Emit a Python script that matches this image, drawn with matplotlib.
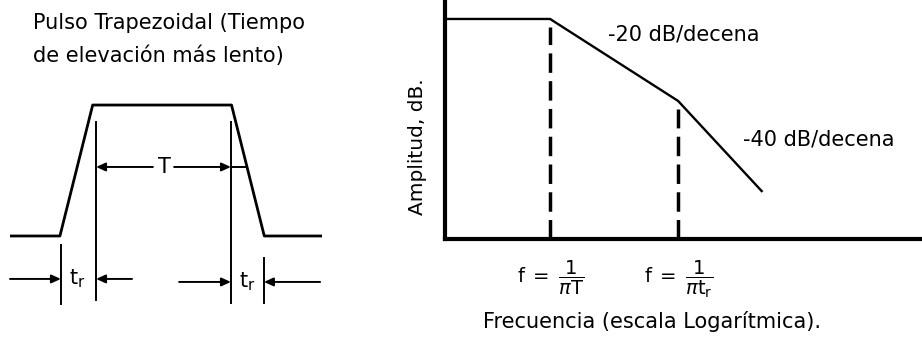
"""
Pulso trapezoidal y su envolvente espectral (asintotas de Bode)
"""
import matplotlib
matplotlib.use('Agg')
import matplotlib.pyplot as plt

plt.rcParams['font.family'] = ['DejaVu Sans']
plt.rcParams['mathtext.fontset'] = 'dejavusans'
plt.rcParams['lines.scale_dashes'] = False

# pulso (unidades de tiempo arbitrarias)
pulse_t = [0.0, 1.6, 2.65, 7.1, 8.15, 10.0]
pulse_v = [0.0, 0.0, 1.0, 1.0, 0.0, 0.0]
tr_left = (1.63, 2.76)
tr_right = (7.08, 8.14)
T_span = (2.76, 7.08)

# espectro: frecuencia (log) y amplitud (dB)
spec_f = [0.151, 1.0, 10.0, 45.0]
spec_db = [0.0, 0.0, -20.0, -42.0]
corner_f = [1.0, 10.0]
corner_db = [0.0, -20.0]
corner_labels = [r'$\mathrm{f}\;=\;\dfrac{1}{\pi\mathrm{T}}$',
                 r'$\mathrm{f}\;=\;\dfrac{1}{\pi\mathrm{t_r}}$']
TR = r'$\mathrm{t_r}$'

FS = 15
fig = plt.figure(figsize=(9.22, 3.38), dpi=100)

# ---------- pulso trapezoidal ----------
axp = fig.add_axes([10/922, 0, 312/922, 1])
axp.set_xlim(0, 10)
axp.set_ylim(-0.779, 1.802)
axp.axis('off')
axp.plot(pulse_t, pulse_v, 'k-', lw=2.0, solid_joinstyle='round')

# lineas de cota
for x, y0, y1 in [(T_span[0], -0.49, 0.87), (T_span[1], -0.51, 0.87),
                  (tr_left[0], -0.52, -0.07), (tr_right[1], -0.51, -0.17)]:
    axp.plot([x, x], [y0, y1], 'k-', lw=1.4)

aprops = dict(arrowstyle='-|>,head_length=0.55,head_width=0.25', color='k', lw=1.4,
              shrinkA=0, shrinkB=0)
yT = 0.527
axp.annotate('', xy=(T_span[0], yT), xytext=(4.58, yT), arrowprops=aprops)
axp.annotate('', xy=(T_span[1], yT), xytext=(5.26, yT), arrowprops=aprops)
axp.plot([T_span[1], 7.6], [yT, yT], 'k-', lw=1.4)
axp.text(4.94, yT, 'T', fontsize=FS, ha='center', va='center')

ya, yb = -0.328, -0.351
axp.annotate('', xy=(tr_left[0], ya), xytext=(0.0, ya), arrowprops=aprops)
axp.annotate('', xy=(tr_left[1], ya), xytext=(3.91, ya), arrowprops=aprops)
axp.text(2.15, ya, TR, fontsize=FS, ha='center', va='center')
axp.annotate('', xy=(tr_right[0], yb), xytext=(5.42, yb), arrowprops=aprops)
axp.annotate('', xy=(tr_right[1], yb), xytext=(9.94, yb), arrowprops=aprops)
axp.text(7.6, yb, TR, fontsize=FS, ha='center', va='center')

fig.text(33/922, 1 - 23/338, 'Pulso Trapezoidal (Tiempo', fontsize=FS, va='center')
fig.text(33/922, 1 - 56/338, 'de elevación más lento)', fontsize=FS, va='center')

# ---------- espectro ----------
ax = fig.add_axes([445/922, 1 - 239/338, 477/922, 239/338])
ax.set_xscale('log')
ax.set_xlim(0.151, 805)
ax.set_ylim(-53.7, 4.63)
for s in ['top', 'right']:
    ax.spines[s].set_visible(False)
for s in ['left', 'bottom']:
    ax.spines[s].set_linewidth(3)
ax.set_yticks([])
ax.set_xticks(corner_f)
ax.set_xticklabels(corner_labels, fontsize=FS - 1)
ax.xaxis.set_minor_locator(matplotlib.ticker.NullLocator())
ax.tick_params(axis='x', length=0, pad=14)

ax.plot(spec_f, spec_db, 'k-', lw=1.7)
for f, db in zip(corner_f, corner_db):
    ax.plot([f, f], [-53.7, db - 2], color='k', lw=2.5, dashes=(14, 6))

ax.text(0.342, 0.854, '-20 dB/decena', transform=ax.transAxes, fontsize=FS, va='center')
ax.text(0.625, 0.418, '-40 dB/decena', transform=ax.transAxes, fontsize=FS, va='center')
ax.text(-0.057, 0.385, 'Amplitud, dB.', transform=ax.transAxes, fontsize=FS - 0.5,
        rotation=90, ha='center', va='center')
ax.text(0.434, -0.347, 'Frecuencia (escala Logarítmica).', transform=ax.transAxes,
        fontsize=FS, ha='center', va='center')

plt.savefig('out.png', dpi=100)
